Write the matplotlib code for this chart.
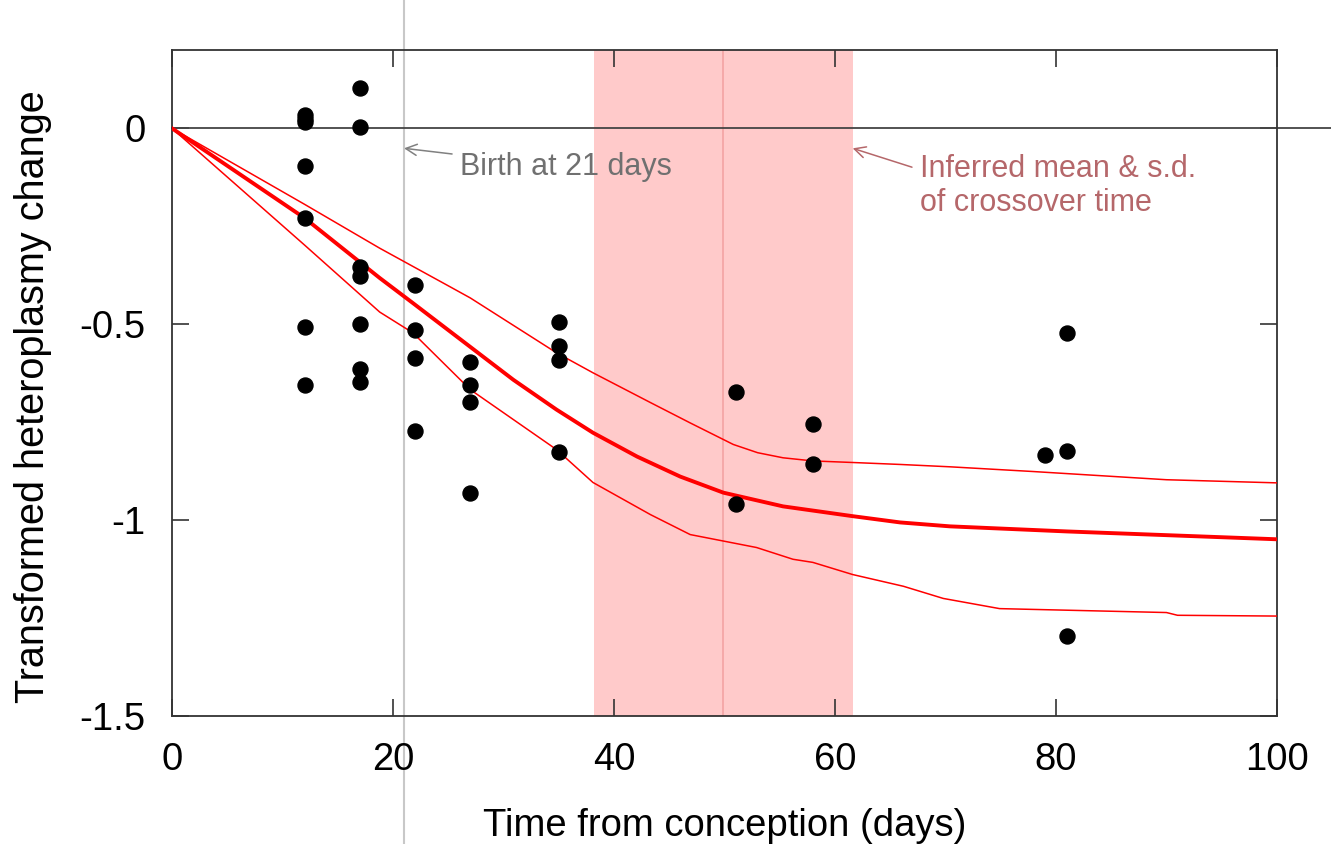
import numpy as np
import matplotlib.pyplot as plt

plt.rcParams['font.family'] = ['Liberation Sans', 'DejaVu Sans']
plt.rcParams['axes.unicode_minus'] = False

# measured samples: time (days) and transformed heteroplasmy change
sample_days = [12, 12, 12, 12, 12, 12, 12,
               17, 17, 17, 17, 17, 17, 17,
               22, 22, 22, 22,
               27, 27, 27, 27,
               35, 35, 35, 35,
               51, 51,
               58, 58,
               79,
               81, 81, 81]
sample_change = [0.035, 0.025, 0.015, -0.097, -0.229, -0.507, -0.655,
                 0.102, 0.003, -0.354, -0.377, -0.50, -0.614, -0.647,
                 -0.40, -0.515, -0.586, -0.772,
                 -0.596, -0.655, -0.698, -0.93,
                 -0.494, -0.555, -0.591, -0.825,
                 -0.674, -0.96,
                 -0.754, -0.856,
                 -0.835,
                 -0.523, -0.823, -1.297]

# model fit: mean trajectory
fit_days = [0, 12, 18.8, 21.8, 27, 30.9, 34.8, 38.1, 42.1, 46, 49.9, 55.3,
            61.6, 65.9, 70.4, 81, 100]
fit_mean = [0, -0.229, -0.382, -0.446, -0.558, -0.642, -0.718, -0.777, -0.838,
            -0.889, -0.93, -0.965, -0.99, -1.006, -1.016, -1.029, -1.049]

# upper and lower bounds of the fit
upper_days = [0, 12, 18.8, 25.2, 27, 34.8, 38.1, 43.3, 46.9, 50.8, 53, 55.3,
              58, 61.6, 65.9, 70.4, 77.9, 90, 100]
upper_vals = [0, -0.194, -0.306, -0.405, -0.433, -0.573, -0.624, -0.70, -0.752,
              -0.807, -0.828, -0.841, -0.849, -0.853, -0.858, -0.864, -0.876,
              -0.897, -0.905]
lower_days = [0, 12, 18.8, 21.8, 27, 34.8, 38.1, 43.3, 46.9, 52.9, 56.2, 58,
              61.6, 66.2, 69.8, 74.9, 90, 91, 100]
lower_vals = [0, -0.298, -0.469, -0.522, -0.667, -0.82, -0.904, -0.986, -1.037,
              -1.07, -1.1, -1.108, -1.139, -1.169, -1.2, -1.226, -1.236, -1.243,
              -1.245]

birth_day = 21
crossover_mean = 49.9
crossover_sd = 11.7

fig = plt.figure(figsize=(13.31, 8.44), dpi=100)
ax = fig.add_axes([0.1292, 0.1517, 0.8302, 0.7891])

ax.axvspan(crossover_mean - crossover_sd, crossover_mean + crossover_sd,
           color='#ffcaca', lw=0, zorder=0)
ax.axvline(crossover_mean, color='#f3a3a3', lw=1.2, zorder=1)
ax.axvline(birth_day, ymin=-0.2, ymax=1.1, color='#c8c8c8', lw=1.5,
           clip_on=False, zorder=1)
ax.plot([0, 106], [0, 0], color='#444444', lw=1.3, clip_on=False, zorder=2)

ax.plot(upper_days, upper_vals, color='red', lw=1.1, zorder=3)
ax.plot(lower_days, lower_vals, color='red', lw=1.1, zorder=3)
ax.plot(fit_days, fit_mean, color='red', lw=2.8, zorder=3)
ax.plot(sample_days, sample_change, 'o', color='black', ms=10.8, zorder=4)

ax.annotate('Birth at 21 days', xy=(birth_day, -0.051), xytext=(26.1, -0.1),
            fontsize=22, color='#707070', va='center', ha='left',
            arrowprops=dict(arrowstyle='->', color='#808080', lw=1.1,
                            shrinkA=4, shrinkB=0, mutation_scale=20))
ax.annotate('Inferred mean & s.d.\nof crossover time',
            xy=(crossover_mean + crossover_sd, -0.051), xytext=(67.7, -0.147),
            fontsize=22, color='#b5676a', va='center', ha='left',
            linespacing=1.2,
            arrowprops=dict(arrowstyle='->', color='#b5676a', lw=1.1,
                            shrinkA=4, shrinkB=0, mutation_scale=20,
                            relpos=(0, 0.75)))

ax.set_xlim(0, 100)
ax.set_ylim(-1.5, 0.2)
ax.set_xticks([0, 20, 40, 60, 80, 100])
ax.set_yticks([-1.5, -1, -0.5, 0])
ax.set_yticklabels(['-1.5', '-1', '-0.5', '0'])
ax.tick_params(direction='in', length=12, width=1.2, color='#333333',
               labelsize=27.5, top=True, right=True)
ax.tick_params(axis='x', pad=19)
ax.tick_params(axis='y', pad=19)
for s in ax.spines.values():
    s.set_color('#333333')
    s.set_linewidth(1.3)

ax.set_xlabel('Time from conception (days)', fontsize=27.5, labelpad=21)
ax.set_ylabel('Transformed heteroplasmy change', fontsize=28.5)
ax.yaxis.set_label_coords(-0.109, 0.48)

fig.savefig('out.png', dpi=100)
